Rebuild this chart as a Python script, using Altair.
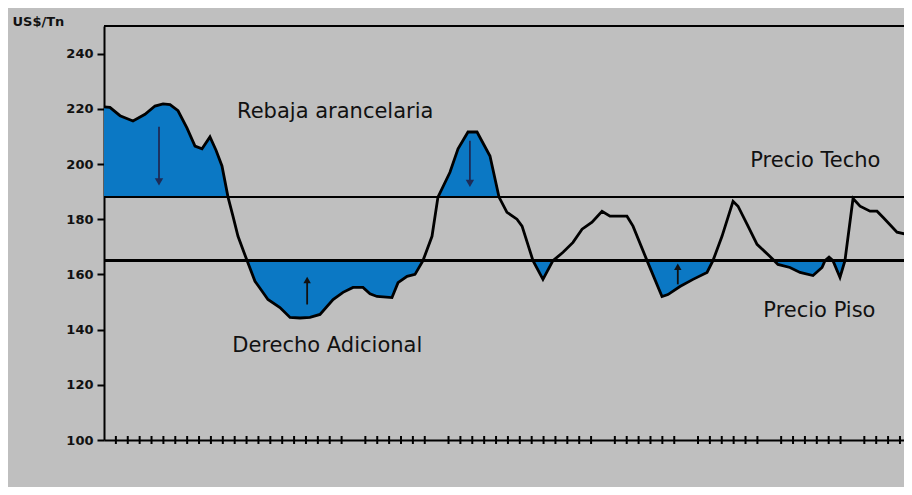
import altair as alt
import pandas as pd

# ---- data ----
month = [0, 0.5, 1.35, 2.44, 3.45, 4.29, 4.97, 5.56, 6.23, 6.99, 7.66, 8.25, 8.92, 9.43, 9.93,
         10.44, 10.86, 11.28, 12.04, 12.71, 13.13, 13.80, 14.81, 15.66, 16.50, 17.34, 18.18,
         19.28, 20.12, 20.96, 21.80, 22.39, 22.98, 24.24, 24.75, 25.51, 26.18, 26.85, 27.61,
         28.11, 29.12, 29.80, 30.64, 31.40, 32.49, 33.25, 33.92, 34.76, 35.19, 36.11, 36.95,
         37.79, 38.64, 39.48, 40.24, 41.08, 41.92, 42.59, 43.43, 44.02, 44.53, 45.71, 46.97,
         47.47, 48.48, 49.58, 50.76, 51.26, 52.02, 52.95, 53.37, 54.21, 54.97, 56.06, 56.40,
         56.73, 57.74, 58.59, 59.68, 60.44, 60.69, 61.03, 61.36, 61.95, 62.37, 63.05, 63.64,
         64.48, 65.07, 65.57, 66.75, 67.59, 68.0]
price = [220.7, 220.5, 217.5, 215.6, 218, 221, 221.8, 221.5, 219.3, 213, 206.5, 205.5, 209.8, 205, 199.3,
         188, 181, 173.8, 165, 157.5, 155, 150.9, 148, 144.4, 144.2, 144.4, 145.5,
         150.9, 153.5, 155.3, 155.3, 153, 152, 151.6, 157, 159.3, 160, 165, 173.8,
         188, 197, 205.5, 211.6, 211.6, 202.9, 188, 182.5, 180, 177.5, 165, 158.2,
         165, 168, 171.6, 176.4, 178.9, 182.9, 181.1, 181.1, 181.1, 177.5, 165, 152,
         152.7, 155.6, 158.2, 160.7, 165, 173.8, 186.5, 184.7, 177.5, 170.9, 166.5, 165,
         163.6, 162.5, 160.7, 159.6, 162.5, 165, 166.3, 165, 158.9, 165, 187.5, 184.7,
         182.9, 182.9, 180.7, 175.3, 174.5, 174.5]

precio_techo = 188
precio_piso = 165

y_ticks = [100, 120, 140, 160, 180, 200, 220, 240]
missing_ticks = [21, 28, 42, 49, 56, 63]
x_ticks = [i for i in range(1, 68) if i not in missing_ticks]

label_text = ["Rebaja arancelaria", "Derecho Adicional", "Precio Techo", "Precio Piso"]
label_x = [11.2, 10.8, 54.4, 55.5]
label_y = [218.9, 134.2, 201.1, 146.9]

arrow_x = [4.63, 30.8, 17.1, 48.3]
arrow_from = [213.5, 208.4, 149.1, 156.4]
arrow_to = [193.5, 193.0, 158.0, 162.8]
arrow_dir = ["down", "down", "up", "up"]
arrow_color = ["#1d2b57", "#1d2b57", "#111111", "#111111"]

BLUE = "#0b78c4"
BG = "#bfbfbf"
FONT = "DejaVu Sans"
W, H = 800, 414

df = pd.DataFrame({"x": month, "v": price})
df["techo"] = precio_techo
df["piso"] = precio_piso
df["top_hi"] = df["v"].clip(lower=precio_techo)
df["bot_lo"] = df["v"].clip(upper=precio_piso)

xs = alt.Scale(domain=[0, 67.34], nice=False, zero=False)
ys = alt.Scale(domain=[100, 250], nice=False, zero=False)

x_axis = alt.Axis(labels=False, ticks=False, title=None, grid=False,
                  domainColor="black", domainWidth=2)
y_axis = alt.Axis(values=y_ticks, title="US$/Tn", grid=False,
                  domainColor="black", domainWidth=2,
                  tickColor="black", tickWidth=2, tickSize=7,
                  labelFont=FONT, labelFontSize=13, labelFontWeight="bold",
                  labelColor="#111111", labelPadding=4,
                  titleAngle=0, titleAlign="left", titleBaseline="middle",
                  titleX=-92, titleY=-5, titleFont=FONT, titleFontSize=13,
                  titleFontWeight="bold", titleColor="#111111")


def X(f):
    return alt.X(f, scale=xs, axis=x_axis, title=None)


def Y(f):
    return alt.Y(f, scale=ys, axis=y_axis, title="US$/Tn")


base = alt.Chart(df)

area_hi = base.mark_area(color=BLUE, opacity=1, clip=True).encode(
    x=X("x:Q"), y=Y("top_hi:Q"), y2="techo:Q")
area_lo = base.mark_area(color=BLUE, opacity=1, clip=True).encode(
    x=X("x:Q"), y=Y("piso:Q"), y2="bot_lo:Q")

techo_rule = base.mark_rule(color="black", strokeWidth=1.6).encode(y=Y("techo:Q"))
piso_rule = base.mark_rule(color="black", strokeWidth=1.6).encode(y=Y("piso:Q"))

line = base.mark_line(color="black", strokeWidth=2.8, clip=True).encode(
    x=X("x:Q"), y=Y("v:Q"))

top_border = alt.Chart(pd.DataFrame({"a": [0]})).mark_rule(color="black", strokeWidth=2).encode(
    x=alt.value(0), x2=alt.value(W), y=alt.value(0))

ticks_df = pd.DataFrame({"t": x_ticks})
x_tick_marks = alt.Chart(ticks_df).mark_rule(color="black", strokeWidth=2).encode(
    x=X("t:Q"), y=alt.value(H - 4), y2=alt.value(H + 4))

labels_df = pd.DataFrame({"text": label_text, "x": label_x, "y": label_y})
labels = alt.Chart(labels_df).mark_text(align="left", baseline="middle", font=FONT,
                                        fontSize=21, color="#111111").encode(
    x=X("x:Q"), y=Y("y:Q"), text="text:N")

arrows_df = pd.DataFrame({"x": arrow_x, "y1": arrow_from, "y2": arrow_to,
                          "dir": arrow_dir, "c": arrow_color})
arrow_shafts = alt.Chart(arrows_df).mark_rule(strokeWidth=1.8).encode(
    x=X("x:Q"), y=Y("y1:Q"), y2="y2:Q", color=alt.Color("c:N", scale=None))
heads_down = alt.Chart(arrows_df).transform_filter(alt.datum.dir == "down").mark_point(
    shape="triangle-down", filled=True, size=70, opacity=1).encode(
    x=X("x:Q"), y=Y("y2:Q"), color=alt.Color("c:N", scale=None))
heads_up = alt.Chart(arrows_df).transform_filter(alt.datum.dir == "up").mark_point(
    shape="triangle-up", filled=True, size=55, opacity=1).encode(
    x=X("x:Q"), y=Y("y2:Q"), color=alt.Color("c:N", scale=None))

chart = alt.layer(
    area_hi, area_lo, techo_rule, piso_rule, line, top_border, x_tick_marks,
    arrow_shafts, heads_down, heads_up, labels
).properties(
    width=W, height=H,
    autosize=alt.AutoSizeParams(type="none"),
    padding={"left": 96, "top": 18, "right": 0, "bottom": 47},
    background=BG,
).configure_view(stroke=None)

chart.save("out.html", embed_options={"renderer": "svg", "actions": False})
